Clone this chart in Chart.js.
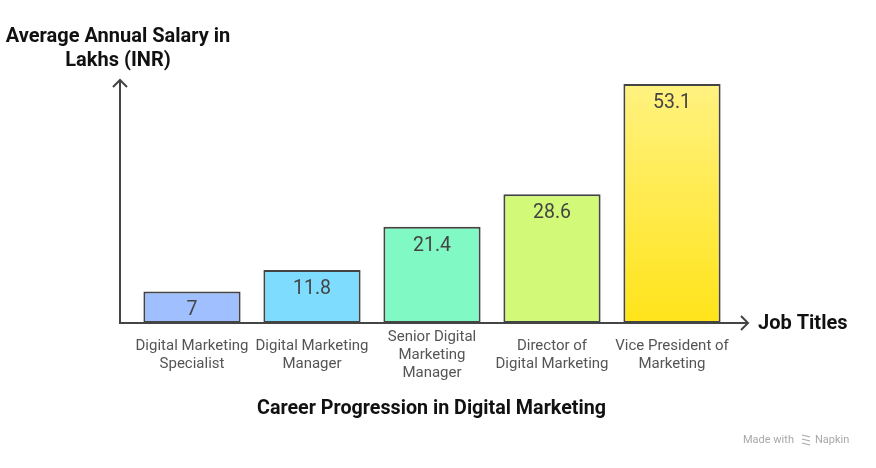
<!DOCTYPE html>
<html>
<head>
<meta charset="utf-8">
<script src="https://cdn.jsdelivr.net/npm/chart.js@4.4.1/dist/chart.umd.min.js"></script>
<style>
  html, body { margin: 0; padding: 0; background: #fff; }
  #wrap { width: 876px; height: 468px; }
</style>
</head>
<body>
<div id="wrap"><canvas id="salary-chart" width="876" height="468"></canvas></div>
<script>
// --- Data ---
const jobTitles = [
    ['Digital Marketing', 'Specialist'],
    ['Digital Marketing', 'Manager'],
    ['Senior Digital', 'Marketing', 'Manager'],
    ['Director of', 'Digital Marketing'],
    ['Vice President of', 'Marketing']
];
const salaries = [7, 11.8, 21.4, 28.6, 53.1];
const barColors = ['#9fbfff', '#7edcff', '#80f9c4', '#d2f977', null]; // last one is a gradient
const yTitleLines = ['Average Annual Salary in', 'Lakhs (INR)'];
const xTitle = 'Job Titles';
const chartTitle = 'Career Progression in Digital Marketing';

const FONT = 'Roboto, "Noto Sans", sans-serif';
const INK = '#444';

// yellow gradient for the tallest bar
function barFill(context) {
    const fixed = barColors[context.dataIndex];
    if (fixed) return fixed;
    const chart = context.chart;
    if (!chart.chartArea || !chart.scales.y) return '#ffec4a';
    const top = chart.scales.y.getPixelForValue(salaries[context.dataIndex]);
    const bottom = chart.scales.y.getPixelForValue(0);
    const g = chart.ctx.createLinearGradient(0, top, 0, bottom);
    g.addColorStop(0, '#fff280');
    g.addColorStop(1, '#ffe41a');
    return g;
}

// axes with open arrow heads + axis titles + main title
const decorPlugin = {
    id: 'decor',
    afterDatasetsDraw(chart) {
        const ctx = chart.ctx;
        const area = chart.chartArea;
        const x0 = area.left - 12;
        const y0 = area.bottom;
        const yTop = area.top + 27;
        const xEnd = area.right + 16;
        ctx.save();
        ctx.strokeStyle = INK;
        ctx.lineWidth = 2;
        ctx.lineCap = 'butt';
        ctx.beginPath();
        ctx.moveTo(x0, y0 + 1);
        ctx.lineTo(x0, yTop);
        ctx.moveTo(x0 - 1, y0);
        ctx.lineTo(xEnd, y0);
        ctx.stroke();
        // arrow heads
        ctx.beginPath();
        ctx.moveTo(x0 - 7, yTop + 7);
        ctx.lineTo(x0, yTop);
        ctx.lineTo(x0 + 7, yTop + 7);
        ctx.moveTo(xEnd - 7, y0 - 7);
        ctx.lineTo(xEnd, y0);
        ctx.lineTo(xEnd - 7, y0 + 7);
        ctx.stroke();

        // value labels inside the bars
        const meta = chart.getDatasetMeta(0);
        ctx.fillStyle = INK;
        ctx.font = '19.5px ' + FONT;
        ctx.textAlign = 'center';
        ctx.textBaseline = 'middle';
        meta.data.forEach((bar, i) => {
            ctx.fillText(String(salaries[i]), bar.x, bar.y + 19);
        });

        // axis titles
        ctx.fillStyle = '#111';
        ctx.font = 'bold 20px ' + FONT;
        ctx.textAlign = 'left';
        ctx.fillText(xTitle, xEnd + 10, y0 + 1);
        ctx.textAlign = 'center';
        yTitleLines.forEach((line, i) => {
            ctx.fillText(line, x0 - 2, 37 + i * 24);
        });

        // chart title
        ctx.font = 'bold 19.7px ' + FONT;
        ctx.fillText(chartTitle, (area.left + area.right) / 2 - 0.5, 409);

        // watermark
        ctx.fillStyle = '#a8a8a8';
        ctx.font = '11px ' + FONT;
        ctx.textAlign = 'left';
        ctx.fillText('Made with', 743, 440);
        ctx.fillText('Napkin', 815, 440);
        ctx.strokeStyle = '#a8a8a8';
        ctx.lineWidth = 1.2;
        ctx.beginPath();
        ctx.moveTo(802, 435); ctx.lineTo(810, 437);
        ctx.moveTo(802, 439); ctx.lineTo(810, 441);
        ctx.moveTo(802, 443); ctx.lineTo(810, 445);
        ctx.stroke();
        ctx.restore();
    }
};

const chart = new Chart(document.getElementById('salary-chart'), {
    type: 'bar',
    data: {
        labels: jobTitles,
        datasets: [{
            data: salaries,
            backgroundColor: barFill,
            borderColor: INK,
            borderWidth: 2,
            borderSkipped: false,
            barPercentage: 0.9,
            categoryPercentage: 0.9
        }]
    },
    options: {
        responsive: false,
        devicePixelRatio: 1,
        animation: false,
        layout: {
            padding: { left: 132, right: 144, top: 53, bottom: 0 }
        },
        plugins: {
            legend: { display: false },
            tooltip: { enabled: false },
            title: { display: false }
        },
        scales: {
            x: {
                grid: { display: false },
                border: { display: false },
                ticks: {
                    color: '#555',
                    font: { family: FONT, size: 15, lineHeight: 1.2 },
                    padding: 6,
                    crossAlign: 'center',
                    maxRotation: 0,
                    autoSkip: false
                },
                afterFit(scale) { scale.height = 145; }
            },
            y: {
                display: false,
                min: 0,
                max: 60
            }
        }
    },
    plugins: [decorPlugin]
});
</script>
</body>
</html>
